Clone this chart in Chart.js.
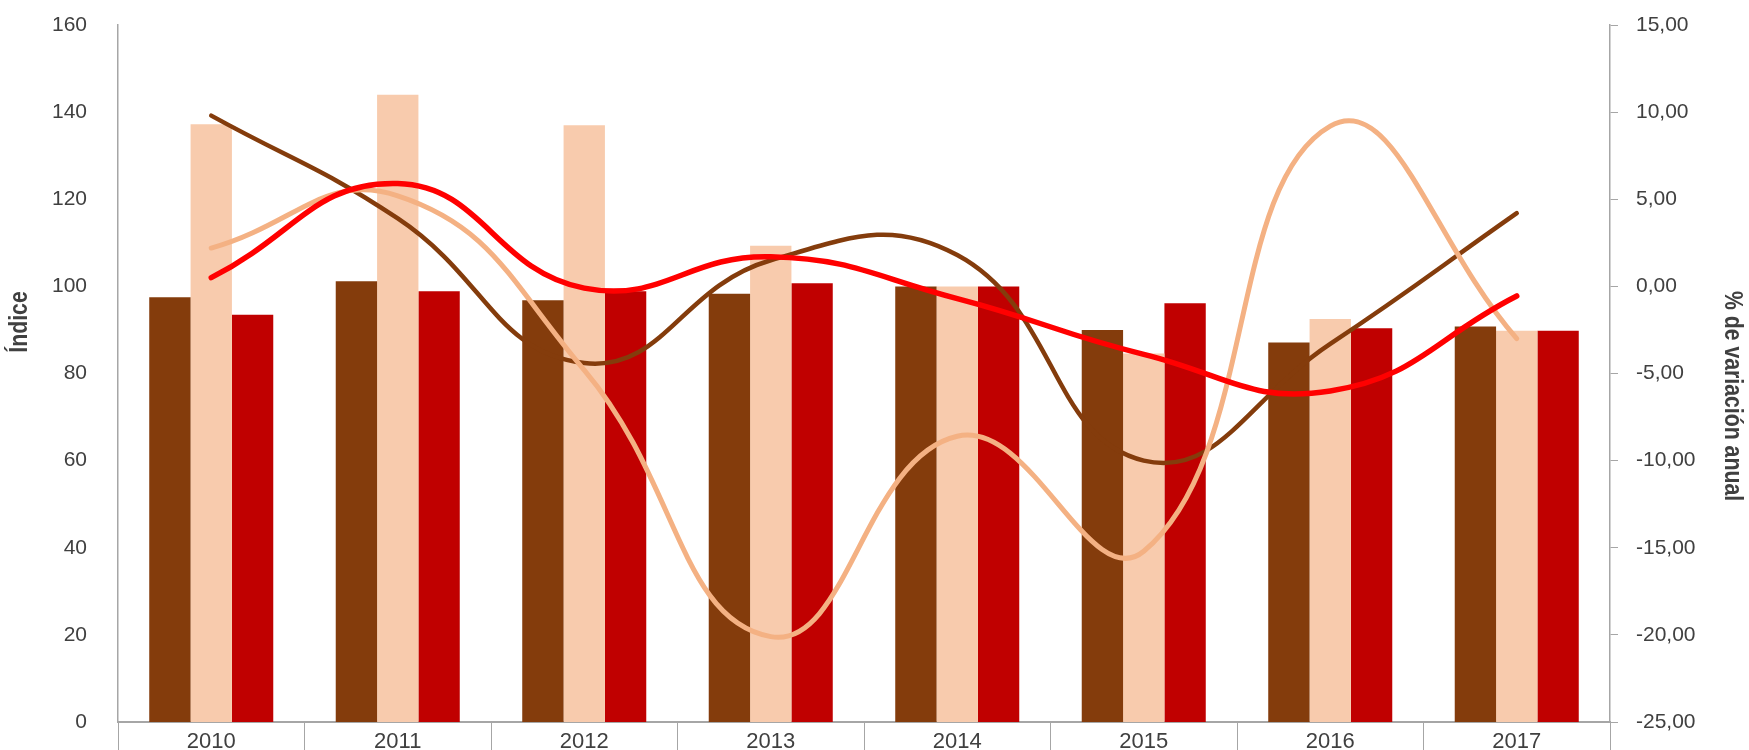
<!DOCTYPE html>
<html>
<head>
<meta charset="utf-8">
<script src="https://cdn.jsdelivr.net/npm/chart.js@4/dist/chart.umd.min.js"></script>
<style>
  html, body { margin: 0; padding: 0; background: #fff; }
  canvas { display: block; }
</style>
</head>
<body>
<canvas id="indexChart" width="1749" height="750"></canvas>
<script>
// categories
const years = ['2010', '2011', '2012', '2013', '2014', '2015', '2016', '2017'];

// bars: index (left axis)
const indexBrown = [97.5, 101.2, 96.8, 98.3, 100, 90.0, 87.1, 90.8];
const indexPeach = [137.2, 144.0, 137.0, 109.3, 100, 84.6, 92.5, 89.8];
const indexRed   = [93.5, 98.9, 98.9, 100.7, 100, 96.1, 90.4, 89.8];

// lines: % annual variation (right axis)
const varBrown = [9.8, 3.9, -4.4, 1.5, 1.8, -10.0, -3.3, 4.2];
const varPeach = [2.2, 5.2, -4.8, -20.1, -8.6, -15.2, 9.2, -3.0];
const varRed   = [0.5, 5.9, -0.1, 1.7, -0.7, -3.9, -6.0, -0.55];

// tick settings
const leftTicks = { min: 0, max: 160, step: 20 };
const rightTicks = { min: -25, max: 15, step: 5 };

const tickColor = '#404040';
const axisGray = '#A6A6A6';
const sans = "'Liberation Sans', Arial, sans-serif";

// axis titles placed like the original (condensed, not centred on the plot)
const axisTitles = {
  id: 'axisTitles',
  afterDraw(chart) {
    const ctx = chart.ctx;
    const draw = (text, x, y, angle) => {
      ctx.save();
      ctx.translate(x, y);
      ctx.rotate(angle);
      ctx.scale(0.85, 1);
      ctx.fillText(text, 0, 0);
      ctx.restore();
    };
    ctx.save();
    ctx.fillStyle = tickColor;
    ctx.font = 'bold 25px ' + sans;
    ctx.textAlign = 'center';
    ctx.textBaseline = 'middle';
    draw('Índice', 20, 322, -Math.PI / 2);
    draw('% de variación anual', 1732, 396, Math.PI / 2);
    ctx.restore();
  }
};

// keep label overflow from pushing the plot area in
function noVerticalPad(scale) {
  scale.paddingTop = 0;
  scale.paddingBottom = 0;
}

function barSet(label, data, color) {
  return {
    type: 'bar', label, data, yAxisID: 'y', order: 2,
    backgroundColor: color, borderWidth: 0,
    categoryPercentage: 0.665, barPercentage: 1
  };
}

function lineSet(label, data, color, width, order) {
  return {
    type: 'line', label, data, yAxisID: 'y1', order,
    borderColor: color, backgroundColor: color, borderWidth: width,
    pointRadius: 0, tension: 0.45, borderCapStyle: 'round', fill: false
  };
}

new Chart(document.getElementById('indexChart'), {
  data: {
    labels: years,
    datasets: [
      barSet('Índice 1', indexBrown, '#843C0C'),
      barSet('Índice 2', indexPeach, '#F8CBAD'),
      barSet('Índice 3', indexRed, '#C00000'),
      lineSet('Variación 1', varBrown, '#843C0C', 4.5, 1.2),
      lineSet('Variación 2', varPeach, '#F4B183', 5, 1.1),
      lineSet('Variación 3', varRed, '#FF0000', 5.5, 1.0)
    ]
  },
  options: {
    responsive: false,
    animation: false,
    layout: { padding: { top: 25 } },
    plugins: { legend: { display: false }, tooltip: { enabled: false } },
    scales: {
      x: {
        grid: { offset: true, drawOnChartArea: false, drawTicks: true, tickLength: 28, color: axisGray, lineWidth: 1 },
        border: { color: axisGray, width: 2 },
        ticks: { color: tickColor, font: { family: sans, size: 22 }, padding: -21, maxRotation: 0 },
        afterFit(scale) { scale.height = 28; }
      },
      y: {
        position: 'left',
        min: leftTicks.min, max: leftTicks.max,
        grid: { display: false },
        border: { color: axisGray, width: 1.5 },
        ticks: { stepSize: leftTicks.step, color: tickColor, font: { family: sans, size: 21 }, padding: 23 },
        afterFit(scale) { scale.width = 118; noVerticalPad(scale); }
      },
      y1: {
        position: 'right',
        min: rightTicks.min, max: rightTicks.max,
        grid: { drawOnChartArea: false, drawTicks: true, tickLength: 8, color: axisGray },
        border: { color: axisGray, width: 1.5 },
        ticks: {
          stepSize: rightTicks.step, color: tickColor, padding: 18,
          font: { family: sans, size: 21 },
          callback: v => v.toFixed(2).replace('.', ',')
        },
        afterFit(scale) { scale.width = 139; noVerticalPad(scale); }
      }
    }
  },
  plugins: [axisTitles]
});
</script>
</body>
</html>
